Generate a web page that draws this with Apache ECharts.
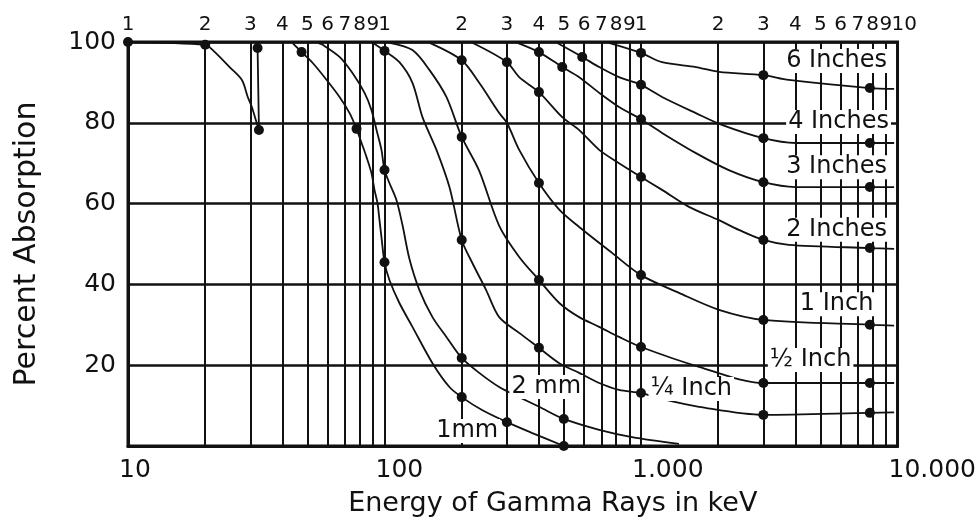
<!DOCTYPE html>
<html>
<head>
<meta charset="utf-8">
<title>Percent Absorption</title>
<script src="https://cdn.jsdelivr.net/npm/echarts@6/dist/echarts.min.js"></script>
<style>
html,body{margin:0;padding:0;background:#fff;}
#main{width:979px;height:529px;}
</style>
</head>
<body>
<div id="main"></div>
<script>
/* [keV, % absorption, dot on the curve 1/0] */
var lowCurve = [[10,100,1],[20,99.3,1],[21.4,98,0],[24.9,93.8,0],[27.8,90.6,0],[29.3,86.4,0],[30.4,83.9,0],[31.5,80.7,0],[32.4,78.2,1]];
var lowEdge = [[32.4,78.2,0],[32,98.5,1]];
var mm1 = [[44,99.6,0],[47.5,97.5,1],[52.5,94.8,0],[59.5,90.6,0],[66.8,86.4,0],[73.1,82.4,0],[77.8,78.5,1],[81.4,75,0],[85.1,71.5,0],[88.9,67.6,0],[91.4,63.4,0],[93.9,60.1,0],[95.6,55.9,0],[97.3,51.7,0],[100,45.5,1],[104.5,41.1,0],[114.3,35.4,0],[128.5,29.5,0],[153.8,20.5,0],[179.1,14.6,0],[200,12.1,1],[240,8.9,0],[300,5.9,1],[377,3.2,0],[500,0,1]];
var mm2 = [[55,99.8,0],[57.4,99.3,0],[66.8,96.3,0],[75,92.3,0],[83.6,87.4,0],[88.9,83.2,0],[93.1,78.2,0],[97.3,73.3,0],[100,68.3,1],[104.5,65.1,0],[111.3,60.9,0],[117.5,54.7,0],[125.1,46.3,0],[136.8,38.6,0],[153.8,31.9,0],[174.3,27,0],[200,21.8,1],[234,18.1,0],[280,14.6,0],[335,12.1,0],[401,9.7,0],[500,6.7,1],[687,4,0],[923,2.2,0],[1406,0.5,0]];
var quarterInch = [[90,99.8,0],[100,97.8,1],[114.3,95,0],[128.5,89.9,0],[140.6,81.4,0],[159.4,73.3,0],[179.1,64.1,0],[200,51,1],[220,45.3,0],[249,38.6,0],[280,31.9,0],[335,28,0],[400,24.3,1],[480,20.5,0],[574,18.1,0],[687,15.6,0],[821,13.9,0],[1000,13.1,1],[1251,11.4,0],[1683,9.7,0],[3000,7.7,1],[7800,8.2,1],[9700,8.3,0]];
var halfInch = [[105,99.8,0],[128.5,98,0],[149.6,93.1,0],[174.3,86.4,0],[200,76.5,1],[234,68.1,0],[280,54.5,0],[335,46.8,0],[400,41.1,1],[480,35.4,0],[574,31.9,0],[687,29.5,0],[821,27,0],[1000,24.5,1],[1683,19.6,0],[3000,15.6,1],[7800,15.6,1],[9700,15.6,0]];
var inch1 = [[150,99.8,0],[200,95.5,1],[234,89.9,0],[280,82.4,0],[300,80,0],[335,73.3,0],[400,65.1,1],[480,58.5,0],[574,54.2,0],[771,47.8,0],[1000,42.3,1],[1406,37.9,0],[2013,33.7,0],[3000,31.2,1],[7800,30,1],[9700,29.8,0]];
var inch2 = [[220,99.8,0],[300,95,1],[335,91.3,0],[400,87.6,1],[493,81.4,0],[574,78.2,0],[687,73.3,0],[821,70,0],[1000,66.6,1],[1208,63.4,0],[1538,59.2,0],[2013,55.9,0],[2405,53.5,0],[3000,51,1],[3767,49.8,0],[7800,49,1],[9700,48.8,0]];
var inch3 = [[330,99.8,0],[400,97.5,1],[493,93.8,1],[574,91.3,0],[687,87.4,0],[821,83.9,0],[1000,80.9,1],[1208,77.5,0],[1637,72.5,0],[2199,68.3,0],[3000,65.3,1],[4009,64.1,0],[7800,64.1,1],[9700,64.1,0]];
var inch4 = [[470,99.8,0],[590,96.3,1],[687,93.8,0],[821,91.3,0],[1000,89.4,1],[1208,86.4,0],[1637,82.4,0],[2066,79.5,0],[3000,76.2,1],[4009,75,0],[7800,75,1],[9700,75,0]];
var inch6 = [[750,99.8,0],[1000,97.3,1],[1208,95,0],[1637,93.8,0],[2013,92.6,0],[3000,91.8,1],[3767,90.6,0],[7800,88.6,1],[9700,88.4,0]];

/* curve names and where they are written (keV, %) */
var curveNames = ['6 Inches','4 Inches','3 Inches','2 Inches','1 Inch','½ Inch','¼ Inch','2 mm','1mm'];
var namePos = [[5790,95.3],[5890,80.2],[5790,69],[5790,53.5],[5790,35.1],[4584,21.3],[1570,14.1],[427,14.6],[210,3.7]];

var topTicks = [10,20,30,40,50,60,70,80,90,100,200,300,400,500,600,700,800,900,1000,2000,3000,4000,5000,6000,7000,8000,9000,10000];
var topLabels = ['1','2','3','4','5','6','7','8','9','1','2','3','4','5','6','7','8','9','1','2','3','4','5','6','7','8','9','10'];
var bottomTicks = [10,100,1000,10000];
var bottomLabels = ['10','100','1.000','10.000'];
var yTicks = [0,20,40,60,80,100];

var ink = '#111';
var font = 'DejaVu Sans';

//数据点 -> echarts data
function toData(arr){
    return arr.map(function(p){
        return {value:[p[0],p[1]], symbol: p[2] ? 'circle' : 'none'};
    });
}

function curveSeries(arr, smooth){
    return {
        type:'line',
        xAxisIndex:0,
        data:toData(arr),
        smooth:smooth,
        symbolSize:10,
        showAllSymbol:true,
        lineStyle:{color:ink, width:1.8},
        itemStyle:{color:ink},
        z:3
    };
}

function labelOf(list, names, v){
    for(var i=0;i<list.length;i++){
        if(Math.abs(list[i]-v) < list[i]*1e-6){ return names[i]; }
    }
    return '';
}

//顶部对数刻度
function topAxis(ticks, showSplit, labelStyle){
    var label = {
        customValues:ticks,
        color:ink,
        fontFamily:font,
        fontSize:20,
        margin:7,
        hideOverlap:false,
        formatter:function(v){ return labelOf(topTicks, topLabels, v); }
    };
    for(var k in labelStyle){ label[k] = labelStyle[k]; }
    return {
        type:'log',
        logBase:10,
        min:10,
        max:10000,
        position:'top',
        axisLine:{show:false},
        axisTick:{show:false, customValues:ticks},
        splitLine:{show:showSplit, lineStyle:{color:ink, width:2}},
        axisLabel:label
    };
}

function paintForm(){
    var myChart = echarts.init(document.getElementById('main'));
    var series = [];
    var curves = [lowCurve, mm1, mm2, quarterInch, halfInch, inch1, inch2, inch3, inch4, inch6];
    for(var i=0;i<curves.length;i++){
        series.push(curveSeries(curves[i], 0.3));
    }
    series.push(curveSeries(lowEdge, false));

    var nameData = [];
    for(var j=0;j<curveNames.length;j++){
        nameData.push({name:curveNames[j], value:namePos[j]});
    }
    series.push({
        type:'scatter',
        xAxisIndex:0,
        data:nameData,
        symbolSize:0,
        z:6,
        itemStyle:{opacity:1},
        label:{
            show:true,
            position:'inside',
            formatter:'{b}',
            color:ink,
            opacity:1,
            fontFamily:font,
            fontSize:24,
            backgroundColor:'#fff',
            padding:[0,2]
        }
    });

    var lastTop = topTicks.length - 1;
    var option = {
        animation:false,
        backgroundColor:'#fff',
        grid:{left:128, right:81, top:42, bottom:83, show:true, borderColor:ink, borderWidth:3},
        xAxis:[
            {
                type:'log',
                logBase:10,
                min:10,
                max:10000,
                position:'bottom',
                name:'Energy of Gamma Rays in keV',
                nameLocation:'middle',
                nameGap:44,
                nameTextStyle:{color:ink, fontFamily:font, fontSize:27, padding:[0,0,0,80]},
                axisLine:{show:true, lineStyle:{color:ink, width:3}},
                axisTick:{show:false, customValues:bottomTicks},
                splitLine:{show:false},
                axisLabel:{
                    customValues:bottomTicks,
                    color:ink,
                    fontFamily:font,
                    fontSize:25,
                    margin:12,
                    align:'left',
                    padding:[0,0,0,-9],
                    formatter:function(v){ return labelOf(bottomTicks, bottomLabels, v); }
                }
            },
            topAxis(topTicks.slice(0, lastTop), true, {showMinLabel:true, showMaxLabel:true, padding:[0,0,0,0]}),
            topAxis(topTicks.slice(lastTop), false, {align:'left', padding:[0,0,0,-6]})
        ],
        yAxis:{
            type:'value',
            min:0,
            max:100,
            interval:20,
            name:'Percent Absorption',
            nameLocation:'middle',
            nameGap:86,
            nameTextStyle:{color:ink, fontFamily:font, fontSize:30},
            axisLine:{show:true, lineStyle:{color:ink, width:3}},
            axisTick:{show:false},
            splitLine:{show:true, lineStyle:{color:ink, width:2.5}},
            axisLabel:{
                color:ink,
                fontFamily:font,
                fontSize:25,
                margin:12,
                formatter:function(v){ return v===yTicks[0] ? '' : String(v); }
            }
        },
        series:series
    };
    myChart.setOption(option);
}

paintForm();
</script>
</body>
</html>
